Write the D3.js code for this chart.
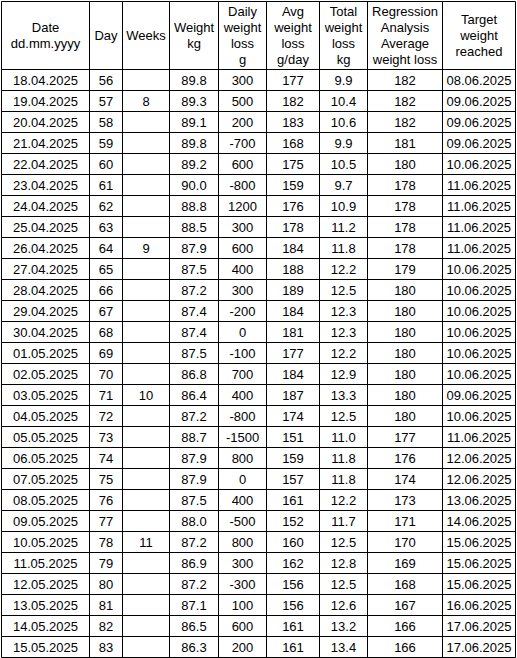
<!DOCTYPE html>
<head>
<meta charset="utf-8">
<script src="https://d3js.org/d3.v7.min.js"></script>
<style>
body { margin: 0; background: #fff; }
text { font: 13px "Liberation Sans", Arial, sans-serif; fill: #000; }
</style>
</head>
<body>
<script>
var width = 517, height = 658;

// data
var dates = ["18.04.2025","19.04.2025","20.04.2025","21.04.2025","22.04.2025","23.04.2025","24.04.2025","25.04.2025","26.04.2025","27.04.2025","28.04.2025","29.04.2025","30.04.2025","01.05.2025","02.05.2025","03.05.2025","04.05.2025","05.05.2025","06.05.2025","07.05.2025","08.05.2025","09.05.2025","10.05.2025","11.05.2025","12.05.2025","13.05.2025","14.05.2025","15.05.2025"];
var days = [56,57,58,59,60,61,62,63,64,65,66,67,68,69,70,71,72,73,74,75,76,77,78,79,80,81,82,83];
var weeks = ["","8","","","","","","","9","","","","","","","10","","","","","","","11","","","","",""];
var weight = ["89.8","89.3","89.1","89.8","89.2","90.0","88.8","88.5","87.9","87.5","87.2","87.4","87.4","87.5","86.8","86.4","87.2","88.7","87.9","87.9","87.5","88.0","87.2","86.9","87.2","87.1","86.5","86.3"];
var dailyLoss = [300,500,200,-700,600,-800,1200,300,600,400,300,-200,0,-100,700,400,-800,-1500,800,0,400,-500,800,300,-300,100,600,200];
var avgLoss = [177,182,183,168,175,159,176,178,184,188,189,184,181,177,184,187,174,151,159,157,161,152,160,162,156,156,161,161];
var totalLoss = ["9.9","10.4","10.6","9.9","10.5","9.7","10.9","11.2","11.8","12.2","12.5","12.3","12.3","12.2","12.9","13.3","12.5","11.0","11.8","11.8","12.2","11.7","12.5","12.8","12.5","12.6","13.2","13.4"];
var regression = [182,182,182,181,180,178,178,178,178,179,180,180,180,180,180,180,180,177,176,174,173,171,170,169,168,167,166,166];
var target = ["08.06.2025","09.06.2025","09.06.2025","09.06.2025","10.06.2025","11.06.2025","11.06.2025","11.06.2025","11.06.2025","10.06.2025","10.06.2025","10.06.2025","10.06.2025","10.06.2025","10.06.2025","09.06.2025","10.06.2025","11.06.2025","12.06.2025","12.06.2025","13.06.2025","14.06.2025","15.06.2025","15.06.2025","15.06.2025","16.06.2025","17.06.2025","17.06.2025"];
var headers = [["Date","dd.mm.yyyy"],["Day"],["Weeks"],["Weight","kg"],["Daily","weight","loss","g"],["Avg","weight","loss","g/day"],["Total","weight","loss","kg"],["Regression","Analysis","Average","weight loss"],["Target","weight","reached"]];
var colEdges = [1.5,89.5,122.5,169.5,218.5,266.5,319.5,367.5,442.5,515.5];

var columns = [dates, days, weeks, weight, dailyLoss, avgLoss, totalLoss, regression, target];
var rows = dates.map(function(d, i) { return columns.map(function(c) { return c[i]; }); });

var svg = d3.select('body').append('svg').attr('width', width).attr('height', height);

var headTop = 1.5, headBottom = 69.5;
var yScale = d3.scaleBand().domain(d3.range(rows.length)).range([headBottom, headBottom + 21 * rows.length]);

// header text
headers.forEach(function(h, c) {
  var cx = (colEdges[c] + colEdges[c + 1]) / 2;
  var cy = (headTop + headBottom) / 2;
  var t = svg.append('text').attr('text-anchor', 'middle');
  h.forEach(function(line, k) {
    t.append('tspan').attr('x', cx).attr('y', cy + (k - (h.length - 1) / 2) * 16 + 4.5).text(line);
  });
});

// cells
var rowG = svg.selectAll('g.row').data(rows).enter().append('g')
  .attr('transform', function(d, i) { return 'translate(0,' + yScale(i) + ')'; });
rowG.selectAll('text').data(function(d) { return d; }).enter().append('text')
  .attr('text-anchor', 'middle')
  .attr('x', function(d, c) { return (colEdges[c] + colEdges[c + 1]) / 2; })
  .attr('y', yScale.bandwidth() / 2 + 4.5)
  .text(function(d) { return d; });

// grid
var bottom = yScale.range()[1];
svg.selectAll('line.v').data(colEdges).enter().append('line')
  .attr('x1', function(d) { return d; }).attr('x2', function(d) { return d; })
  .attr('y1', headTop).attr('y2', bottom).style('stroke', '#000');
var hLines = [headTop, headBottom].concat(d3.range(rows.length).map(function(i) { return yScale(i) + yScale.bandwidth(); }));
svg.selectAll('line.h').data(hLines).enter().append('line')
  .attr('x1', colEdges[0]).attr('x2', colEdges[colEdges.length - 1])
  .attr('y1', function(d) { return d; }).attr('y2', function(d) { return d; }).style('stroke', '#000');
</script>
</body>
